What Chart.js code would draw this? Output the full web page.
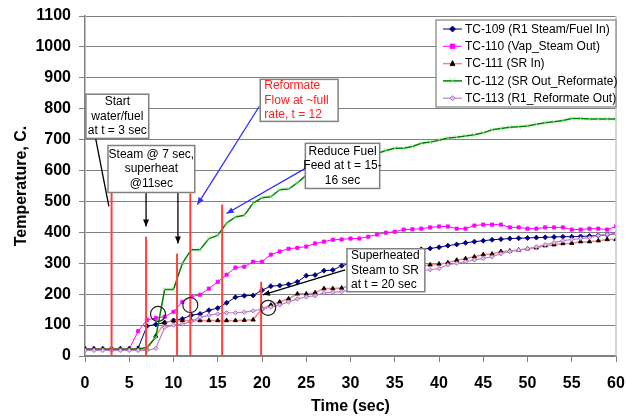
<!DOCTYPE html>
<html><head><meta charset="utf-8">
<script src="https://cdn.jsdelivr.net/npm/chart.js@4/dist/chart.umd.min.js"></script>
<style>html,body{margin:0;padding:0;background:#fff;}#wrap{width:628px;height:416px;}</style>
</head><body><div id="wrap"><canvas id="c" width="628" height="416"></canvas></div>
<script>
const seriesNames = ['TC-109 (R1 Steam/Fuel In)','TC-110 (Vap_Steam Out)','TC-111 (SR In)','TC-112 (SR Out_Reformate)','TC-113 (R1_Reformate Out)'];
const times = [0,1,2,3,4,5,6,7,8,9,10,11,12,13,14,15,16,17,18,19,20,21,22,23,24,25,26,27,28,29,30,31,32,33,34,35,36,37,38,39,40,41,42,43,44,45,46,47,48,49,50,51,52,53,54,55,56,57,58,59,60];
const tc109 = [23,23,23,23,23,23,25,97,102,108,115,120,132,136,148,155,172,190,195,196,213,226,228,232,240,260,262,276,278,292,300,306,312,318,324,330,335,340,345,348,352,357,361,366,370,373,376,378,380,381,382,383,384,385,386,386,387,388,390,392,396];
const tc110 = [23,23,23,23,23,23,80,117,123,127,143,175,192,198,218,240,263,286,289,305,305,328,338,347,350,354,364,370,376,377,380,380,386,393,399,402,409,410,412,416,419,419,412,412,422,425,425,425,416,416,412,412,416,416,416,409,409,412,412,409,419];
const tc111 = [23,23,23,23,23,23,23,22,65,108,114,115,115,115,115,115,115,115,116,117,153,165,175,185,201,201,205,218,218,220,228,236,244,252,260,268,276,284,290,295,298,302,310,315,321,328,330,338,340,343,347,350,357,360,364,365,370,370,373,377,377];
const tc112 = [22,22,22,22,22,22,22,28,60,215,215,300,344,344,380,390,430,450,455,495,512,515,538,540,560,585,598,610,615,625,635,640,648,655,665,672,672,678,688,692,698,705,708,712,716,722,732,736,740,742,744,750,755,758,762,768,768,767,767,767,767];
const tc113 = [18,18,18,18,18,18,18,18,25,92,100,103,112,125,132,136,140,140,142,146,152,158,165,175,185,191,195,204,206,208,214,222,230,238,246,254,262,270,277,279,283,295,300,305,311,316,321,331,338,343,347,353,360,367,373,377,380,383,390,393,396];
const xTicks = [0,5,10,15,20,25,30,35,40,45,50,55,60];
const yTicks = [0,100,200,300,400,500,600,700,800,900,1000,1100];

// annotation texts
const noteTexts = {
  start: ['Start','water/fuel','at t = 3 sec'],
  steam: ['Steam @ 7 sec,','superheat','@11sec'],
  reform: ['Reformate','Flow at ~full','rate, t = 12'],
  reduce: ['Reduce Fuel','Feed at t = 15-','16 sec'],
  superh: ['Superheated','Steam to SR','at t = 20 sec']
};
// event marker lines (time, top temperature)
const eventTimes = [3, 6.9, 10.4, 11.9, 15.5, 19.9];
const eventTops = [575, 386, 331, 526, 490, 240];

const FONT = "'Liberation Sans', Arial, sans-serif";
const styles = [
  {line:'#000080', pt:'rectRot', pf:'#000080', ps:'#000080', r:2.5, w:1},
  {line:'#ff00ff', pt:'rect', pf:'#ff00ff', ps:'#ff00ff', r:2.3, w:1},
  {line:'#ff8080', pt:'triangle', pf:'#000000', ps:'#000000', r:2.5, w:1.5},
  {line:'#008000', pt:'crossRot', pf:'#80e080', ps:'#80e080', r:3, w:1.5},
  {line:'#c080d0', pt:'rectRot', pf:'#e0c0f0', ps:'#a060b0', r:2.2, w:1.2}
];
const allSeries = [tc109, tc110, tc111, tc112, tc113];

const datasets = allSeries.map((arr, i) => ({
  label: seriesNames[i],
  data: times.map((t, k) => ({x: t, y: arr[k]})),
  borderColor: styles[i].line,
  borderWidth: styles[i].w,
  pointStyle: styles[i].pt,
  pointRadius: styles[i].r,
  pointBackgroundColor: styles[i].pf,
  pointBorderColor: styles[i].ps,
  pointBorderWidth: 0.8,
  tension: 0,
  order: 5 - i
}));

function drawMarker(ctx, st, x, y) {
  const r = st.r;
  ctx.save();
  ctx.fillStyle = st.pf; ctx.strokeStyle = st.ps; ctx.lineWidth = 0.8;
  ctx.beginPath();
  if (st.pt === 'rect') { ctx.rect(x - r, y - r, 2*r, 2*r); ctx.fill(); ctx.stroke(); }
  else if (st.pt === 'rectRot') { ctx.moveTo(x, y - r*1.2); ctx.lineTo(x + r*1.2, y); ctx.lineTo(x, y + r*1.2); ctx.lineTo(x - r*1.2, y); ctx.closePath(); ctx.fill(); ctx.stroke(); }
  else if (st.pt === 'triangle') { ctx.moveTo(x, y - r*1.2); ctx.lineTo(x + r, y + r*0.8); ctx.lineTo(x - r, y + r*0.8); ctx.closePath(); ctx.fill(); ctx.stroke(); }
  else if (st.pt === 'crossRot') { ctx.moveTo(x - r, y - r); ctx.lineTo(x + r, y + r); ctx.moveTo(x + r, y - r); ctx.lineTo(x - r, y + r); ctx.stroke(); }
  ctx.restore();
}

function arrow(ctx, x0, y0, x1, y1, color, head) {
  ctx.save();
  ctx.strokeStyle = color; ctx.fillStyle = color; ctx.lineWidth = 1.3;
  ctx.beginPath(); ctx.moveTo(x0, y0); ctx.lineTo(x1, y1); ctx.stroke();
  if (head) {
    const a = Math.atan2(y1 - y0, x1 - x0), L = 7, W = 3;
    ctx.beginPath();
    ctx.moveTo(x1, y1);
    ctx.lineTo(x1 - L*Math.cos(a) + W*Math.sin(a), y1 - L*Math.sin(a) - W*Math.cos(a));
    ctx.lineTo(x1 - L*Math.cos(a) - W*Math.sin(a), y1 - L*Math.sin(a) + W*Math.cos(a));
    ctx.closePath(); ctx.fill();
  }
  ctx.restore();
}

function textBox(ctx, xs, ys, t0, v0, t1, v1, lines, align, color) {
  const x0 = xs.getPixelForValue(t0), x1 = xs.getPixelForValue(t1);
  const y0 = ys.getPixelForValue(v0), y1 = ys.getPixelForValue(v1);
  ctx.save();
  ctx.fillStyle = '#ffffff'; ctx.fillRect(x0, y0, x1 - x0, y1 - y0);
  ctx.strokeStyle = '#808080'; ctx.lineWidth = 1.5; ctx.strokeRect(x0, y0, x1 - x0, y1 - y0);
  ctx.fillStyle = color; ctx.font = '12px ' + FONT; ctx.textBaseline = 'middle';
  const lh = 14.3, h = y1 - y0, startY = y0 + h/2 - lh*(lines.length - 1)/2;
  lines.forEach((s, i) => {
    if (align === 'center') { ctx.textAlign = 'center'; ctx.fillText(s, (x0 + x1)/2, startY + i*lh); }
    else { ctx.textAlign = 'left'; ctx.fillText(s, x0 + 4, startY + i*lh); }
  });
  ctx.restore();
}

const notesPlugin = {
  id: 'notes',
  afterDatasetsDraw(chart) {
    const {ctx, chartArea: ca} = chart;
    const xs = chart.scales.x, ys = chart.scales.y;
    const X = v => xs.getPixelForValue(v), Y = v => ys.getPixelForValue(v);
    ctx.save();
    ctx.strokeStyle = '#c8c8c8'; ctx.lineWidth = 1.5;
    ctx.beginPath(); ctx.moveTo(ca.right, ca.top); ctx.lineTo(ca.right, ca.bottom); ctx.stroke();
    ctx.strokeStyle = '#ff4040'; ctx.lineWidth = 2;
    eventTimes.forEach((t, i) => {
      ctx.beginPath(); ctx.moveTo(X(t), Y(0)); ctx.lineTo(X(t), Y(eventTops[i])); ctx.stroke();
    });
    ctx.strokeStyle = '#202020'; ctx.lineWidth = 1.2;
    [[8.25,136],[11.9,165],[20.7,156]].forEach(([t, v]) => {
      ctx.beginPath(); ctx.arc(X(t), Y(v), 7.5, 0, Math.PI*2); ctx.stroke();
    });
    ctx.restore();
    arrow(ctx, X(1.2), Y(704), X(2.7), Y(484), '#000', false);
    arrow(ctx, X(6.9), Y(529), X(6.9), Y(419), '#000', true);
    arrow(ctx, X(10.5), Y(529), X(10.5), Y(364), '#000', true);
    arrow(ctx, X(19.7), Y(808), X(12.7), Y(490), '#3030ff', true);
    arrow(ctx, X(24.9), Y(607), X(16.0), Y(461), '#3030ff', true);
    arrow(ctx, X(29.4), Y(279), X(20.1), Y(198), '#000', true);
    textBox(ctx, xs, ys, 0.1, 847, 7.2, 704, noteTexts.start, 'center', '#000');
    textBox(ctx, xs, ys, 2.6, 681, 12.4, 529, noteTexts.steam, 'center', '#000');
    textBox(ctx, xs, ys, 19.8, 895, 28.6, 759, noteTexts.reform, 'left', '#ff2020');
    textBox(ctx, xs, ys, 24.9, 688, 33.3, 542, noteTexts.reduce, 'center', '#000');
    textBox(ctx, xs, ys, 29.6, 347, 38.4, 208, noteTexts.superh, 'left', '#000');
    const lx0 = 436, lx1 = ca.right, ly0 = 20, ly1 = 107;
    ctx.save();
    ctx.fillStyle = '#fff'; ctx.fillRect(lx0, ly0, lx1 - lx0, ly1 - ly0);
    ctx.strokeStyle = '#808080'; ctx.lineWidth = 1.2; ctx.strokeRect(lx0, ly0, lx1 - lx0, ly1 - ly0);
    ctx.font = '12px ' + FONT; ctx.textBaseline = 'middle'; ctx.textAlign = 'left';
    seriesNames.forEach((name, i) => {
      const y = 29 + i*17.3;
      ctx.strokeStyle = styles[i].line; ctx.lineWidth = styles[i].w;
      ctx.beginPath(); ctx.moveTo(443, y); ctx.lineTo(462, y); ctx.stroke();
      drawMarker(ctx, styles[i], 452.5, y);
      ctx.fillStyle = '#000'; ctx.fillText(name, 465, y + 0.5);
    });
    ctx.restore();
  }
};

new Chart(document.getElementById('c'), {
  type: 'line',
  data: { datasets },
  options: {
    responsive: false, animation: false, devicePixelRatio: 1,
    layout: { padding: { left: 0, right: 12, top: 16, bottom: 0 } },
    plugins: { legend: { display: false }, tooltip: { enabled: false } },
    scales: {
      x: {
        type: 'linear', min: 0, max: 60,
        afterBuildTicks: s => { s.ticks = xTicks.map(v => ({value: v})); },
        afterFit: s => { s.height = 60; s.paddingLeft = 0; s.paddingRight = 0; },
        grid: { drawOnChartArea: false, drawTicks: true, tickLength: 6, color: '#808080' },
        border: { color: '#808080', width: 1.5 },
        ticks: { color: '#000', font: { family: FONT, size: 16, weight: 'bold' }, padding: 12, maxRotation: 0, callback: v => String(v) },
        title: { display: true, text: 'Time (sec)', color: '#000', font: { family: FONT, size: 16, weight: 'bold' }, padding: { top: 0, bottom: 0 } }
      },
      y: {
        min: 0, max: 1100,
        afterBuildTicks: s => { s.ticks = yTicks.map(v => ({value: v})); },
        afterFit: s => { s.width = 85; s.paddingTop = 0; s.paddingBottom = 0; },
        grid: { color: '#808080', lineWidth: 1, tickLength: 6, drawTicks: true },
        border: { color: '#808080', width: 1.5 },
        ticks: { color: '#000', font: { family: FONT, size: 16, weight: 'bold' }, padding: 8, callback: v => String(v) },
        title: { display: true, text: 'Temperature, C.', color: '#000', font: { family: FONT, size: 16, weight: 'bold' }, padding: { top: 12, bottom: 0 } }
      }
    }
  },
  plugins: [notesPlugin]
});
</script></body></html>
